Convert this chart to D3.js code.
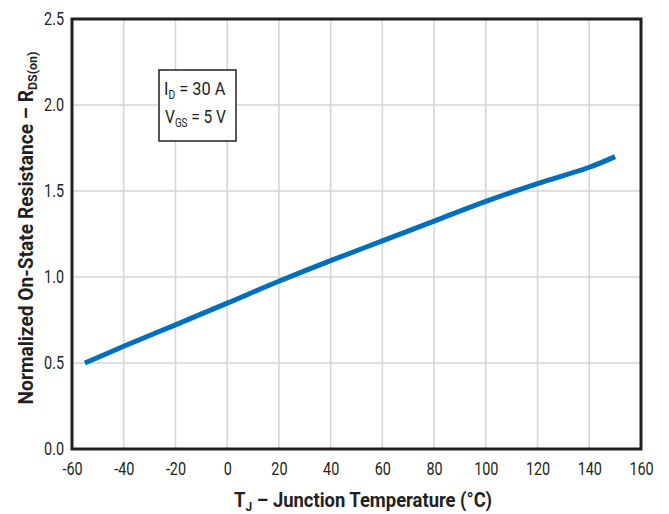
<!DOCTYPE html>
<html>
<head>
<meta charset="utf-8">
<script src="https://cdn.jsdelivr.net/npm/d3@7"></script>
<style>
  html, body { margin: 0; padding: 0; background: #fff; }
  svg { display: block; }
  text { font-family: Roboto, "Liberation Sans", sans-serif; fill: #231f20; }
</style>
</head>
<body>
<svg id="chart" width="669" height="514"></svg>
<script>
// Junction temperature (°C) and normalized on-state resistance
const temperature = [-55, -40, -20, 0, 20, 40, 60, 80, 100, 120, 140, 150];
const resistance  = [0.50, 0.597, 0.722, 0.848, 0.975, 1.095, 1.21, 1.325, 1.44, 1.543, 1.638, 1.70];

const xTicks = [-60, -40, -20, 0, 20, 40, 60, 80, 100, 120, 140, 160];
const yTicks = [0.0, 0.5, 1.0, 1.5, 2.0, 2.5];

const conditions = [
  { main: "I", sub: "D", rest: " = 30 A" },
  { main: "V", sub: "GS", rest: " = 5 V" }
];

const svg = d3.select("#chart");
const margin = { left: 72, right: 28, top: 19, bottom: 65 };
const W = 669, H = 514;
const squeeze = 0.8; // narrow the lettering horizontally

const x = d3.scaleLinear().domain([-60, 160]).range([margin.left, W - margin.right]);
const y = d3.scaleLinear().domain([0, 2.5]).range([H - margin.bottom, margin.top]);

// grid
const grid = svg.append("g");
grid.selectAll("line.vx").data(xTicks.slice(1, -1)).join("line")
  .attr("x1", d => x(d)).attr("x2", d => x(d))
  .attr("y1", y(0)).attr("y2", y(2.5))
  .attr("stroke", "#d6d6d6").attr("stroke-width", 1.6);
grid.selectAll("line.hy").data(yTicks.slice(1, -1)).join("line")
  .attr("x1", x(-60)).attr("x2", x(160))
  .attr("y1", d => y(d)).attr("y2", d => y(d))
  .attr("stroke", "#d6d6d6").attr("stroke-width", 1.6);

// axes (labels only; frame drawn separately)
const xAxis = svg.append("g")
  .attr("transform", `translate(0,${y(0)})`)
  .call(d3.axisBottom(x).tickValues(xTicks).tickSize(0).tickPadding(13).tickFormat(d => String(d)));
const yAxis = svg.append("g")
  .attr("transform", `translate(${x(-60)},0)`)
  .call(d3.axisLeft(y).tickValues(yTicks).tickSize(0).tickPadding(10).tickFormat(d3.format(".1f")));
[xAxis, yAxis].forEach(g => {
  g.select(".domain").remove();
  g.selectAll("text")
    .style("font-size", "18px").attr("fill", "#231f20")
    .attr("transform", `scale(${squeeze},1)`);
});

// frame
svg.append("rect")
  .attr("x", x(-60)).attr("y", y(2.5))
  .attr("width", x(160) - x(-60)).attr("height", y(0) - y(2.5))
  .attr("fill", "none").attr("stroke", "#231f20").attr("stroke-width", 3);

// curve
const line = d3.line().x((d, i) => x(temperature[i])).y(d => y(d)).curve(d3.curveCatmullRom);
svg.append("path")
  .datum(resistance)
  .attr("d", line)
  .attr("fill", "none")
  .attr("stroke", "#0070ba")
  .attr("stroke-width", 5);

// horizontal factor that brings a text element to a target width
function fit(textSel, width) {
  const w = textSel.node().getBBox().width;
  return width / w;
}

// conditions box
const box = svg.append("g").attr("transform", "translate(159,70)");
box.append("rect").attr("width", 77).attr("height", 71)
  .attr("fill", "#fff").attr("stroke", "#231f20").attr("stroke-width", 1.5);
conditions.forEach((c, i) => {
  const g = box.append("g").attr("transform", `translate(${i === 0 ? 5 : 6},${25 + i * 28})`);
  const t = g.append("text").style("font-size", "19px");
  t.append("tspan").text(c.main);
  t.append("tspan").attr("dy", 4).style("font-size", "12px").text(c.sub);
  t.append("tspan").attr("dy", -4).text(c.rest);
  g.attr("transform", g.attr("transform") + ` scale(${fit(t, i === 0 ? 62 : 61)},1)`);
});

// x title
const xg = svg.append("g");
const xt = xg.append("text")
  .attr("text-anchor", "middle")
  .style("font-size", "20px").style("font-weight", "bold");
xt.append("tspan").text("T");
xt.append("tspan").attr("dy", 4).style("font-size", "13px").text("J");
xt.append("tspan").attr("dy", -4).text(" – Junction Temperature (°C)");
xg.attr("transform", `translate(363,507) scale(${fit(xt, 258)},1)`);

// y title
const yg = svg.append("g");
const yt = yg.append("text")
  .attr("text-anchor", "middle")
  .style("font-size", "20px").style("font-weight", "bold");
yt.append("tspan").text("Normalized On-State Resistance – R");
yt.append("tspan").attr("dy", 4).style("font-size", "13px").text("DS(on)");
yg.attr("transform", `translate(33,228) rotate(-90) scale(${fit(yt, 353)},1)`);
</script>
</body>
</html>
